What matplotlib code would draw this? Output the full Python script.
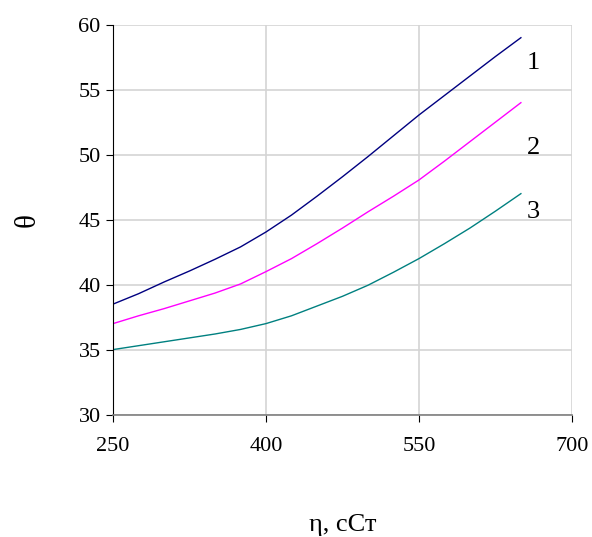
import matplotlib
matplotlib.use("Agg")
import matplotlib.pyplot as plt

plt.rcParams['font.family'] = ['Liberation Serif', 'DejaVu Serif']

eta = [250, 275, 300, 325, 350, 375, 400, 425, 450, 475, 500, 525, 550, 575, 600, 625, 650]
theta_1 = [38.5, 39.3, 40.2, 41.05, 41.95, 42.9, 44.05, 45.35, 46.8, 48.3, 49.85, 51.45, 53.05, 54.55, 56.05, 57.55, 59.0]
theta_2 = [37.0, 37.6, 38.15, 38.75, 39.35, 40.05, 41.0, 42.0, 43.15, 44.35, 45.6, 46.8, 48.05, 49.5, 51.0, 52.5, 54.0]
theta_3 = [35.0, 35.3, 35.6, 35.9, 36.2, 36.55, 37.0, 37.6, 38.35, 39.1, 39.95, 40.95, 42.0, 43.15, 44.35, 45.65, 47.0]
curve_labels = ['1', '2', '3']
label_y = [57.05, 50.5, 45.6]

xticks = [250, 400, 550, 700]
yticks = [30, 35, 40, 45, 50, 55, 60]

fig = plt.figure(figsize=(5.92, 5.37), dpi=100)
ax = fig.add_axes([0.191, 0.228, 0.775, 0.726])

colors = ['#000080', '#ff00ff', '#008080']
for ys, c in zip([theta_1, theta_2, theta_3], colors):
    ax.plot(eta, ys, color=c, lw=1.0)

for lab, ly in zip(curve_labels, label_y):
    ax.text(662, ly, lab, fontsize=19, ha='center', va='center')

ax.set_xlim(250, 700)
ax.set_ylim(30, 60)
ax.set_xticks(xticks)
ax.set_yticks(yticks)
ax.grid(True, color='#d4d4d4', lw=1.2)
ax.set_axisbelow(True)

for s in ['top', 'right']:
    ax.spines[s].set_visible(False)
ax.spines['left'].set_color('black')
ax.spines['bottom'].set_color('#7f7f7f')
ax.spines['bottom'].set_linewidth(1.2)

ax.tick_params(axis='both', direction='out', length=5, labelsize=16)
ax.tick_params(axis='x', pad=11)
ax.tick_params(axis='y', pad=4)

ax.set_xlabel('η, cСт', fontsize=19, labelpad=42)
ax.set_ylabel('θ', fontsize=21, labelpad=27, rotation=90)

fig.savefig('out.png', dpi=100)
